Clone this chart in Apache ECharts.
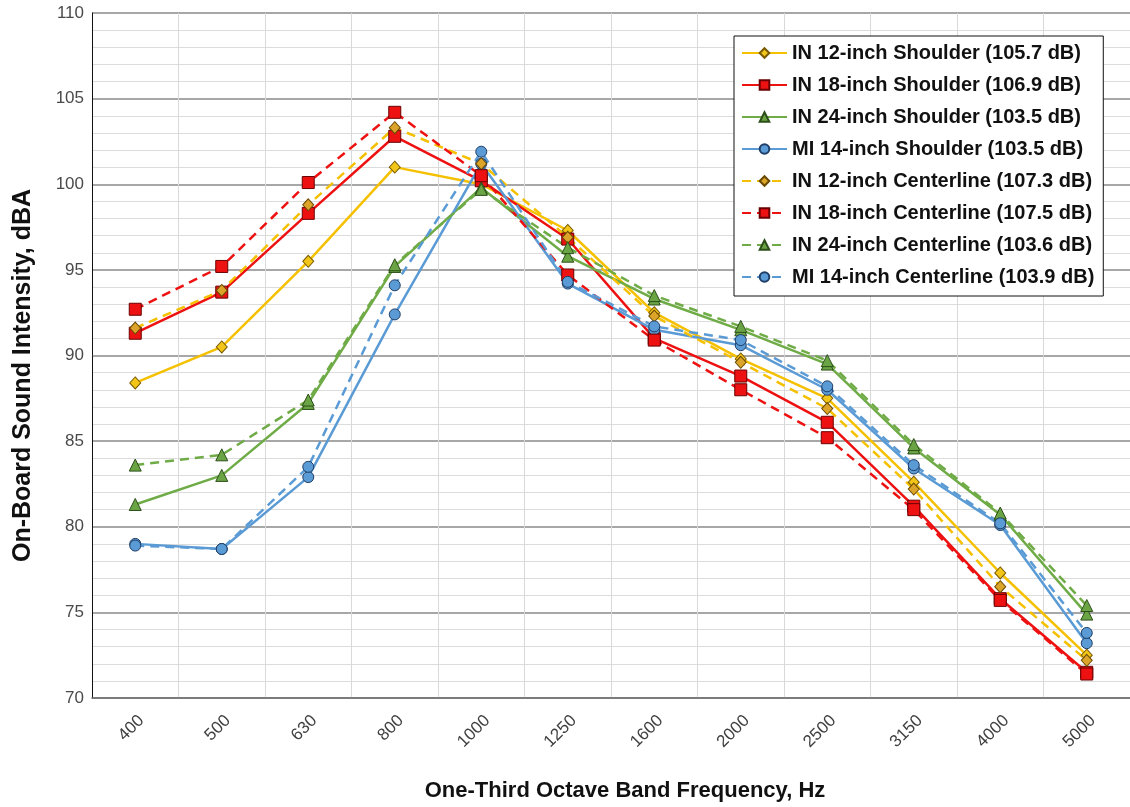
<!DOCTYPE html>
<html>
<head>
<meta charset="utf-8">
<script src="https://cdn.jsdelivr.net/npm/echarts@6/dist/echarts.min.js"></script>
<style>
html,body{margin:0;padding:0;background:#fff;}
#chart{width:1130px;height:807px;}
</style>
</head>
<body>
<div id="chart"></div>
<script>
var categories = ['400','500','630','800','1000','1250','1600','2000','2500','3150','4000','5000'];

var in12Shoulder   = [88.4, 90.5, 95.5, 101.0, 100.0, 97.3, 92.5, 89.8, 87.5, 82.6, 77.3, 72.5];
var in18Shoulder   = [91.3, 93.7, 98.3, 102.8, 100.2, 96.8, 91.0, 88.8, 86.1, 81.2, 75.8, 71.5];
var in24Shoulder   = [81.3, 83.0, 87.2, 95.2, 99.8, 95.8, 93.3, 91.5, 89.5, 84.6, 80.7, 74.9];
var mi14Shoulder   = [79.0, 78.7, 82.9, 92.4, 101.2, 94.2, 91.5, 90.6, 88.0, 83.4, 80.1, 73.2];
var in12Centerline = [91.6, 93.8, 98.8, 103.3, 101.2, 96.9, 92.3, 89.6, 86.9, 82.2, 76.5, 72.2];
var in18Centerline = [92.7, 95.2, 100.1, 104.2, 100.5, 94.7, 90.9, 88.0, 85.2, 81.0, 75.7, 71.4];
var in24Centerline = [83.6, 84.2, 87.4, 95.3, 99.7, 96.3, 93.5, 91.7, 89.7, 84.8, 80.8, 75.4];
var mi14Centerline = [78.9, 78.7, 83.5, 94.1, 101.9, 94.3, 91.7, 90.9, 88.2, 83.6, 80.2, 73.8];

var seriesNames = [
  'IN 12-inch Shoulder (105.7 dB)',
  'IN 18-inch Shoulder (106.9 dB)',
  'IN 24-inch Shoulder (103.5 dB)',
  'MI 14-inch Shoulder (103.5 dB)',
  'IN 12-inch Centerline (107.3 dB)',
  'IN 18-inch Centerline (107.5 dB)',
  'IN 24-inch Centerline (103.6 dB)',
  'MI 14-inch Centerline (103.9 dB)'
];
var seriesData = [in12Shoulder, in18Shoulder, in24Shoulder, mi14Shoulder,
                  in12Centerline, in18Centerline, in24Centerline, mi14Centerline];

var styles = [
  {line:'#F5C000', fill:'#F2C619', border:'#7a5a00', symbol:'diamond', size:[11,12], dash:'solid'},
  {line:'#EE1111', fill:'#EE1111', border:'#6a0000', symbol:'rect', size:12, dash:'solid'},
  {line:'#6FAB46', fill:'#6AA444', border:'#2c4f1a', symbol:'triangle', size:12, dash:'solid'},
  {line:'#5B9BD5', fill:'#5B9BD5', border:'#1f3d66', symbol:'circle', size:11, dash:'solid'},
  {line:'#F5C000', fill:'#DCA52A', border:'#6a4a00', symbol:'diamond', size:[11,12], dash:[9,6]},
  {line:'#EE1111', fill:'#EE1111', border:'#6a0000', symbol:'rect', size:12, dash:[9,6]},
  {line:'#6FAB46', fill:'#6AA444', border:'#2c4f1a', symbol:'triangle', size:12, dash:[9,6]},
  {line:'#5B9BD5', fill:'#5B9BD5', border:'#1f3d66', symbol:'circle', size:11, dash:[9,6]}
];

var series = seriesNames.map(function(n, i){
  var s = styles[i];
  return {
    name: n,
    type: 'line',
    data: seriesData[i],
    symbol: s.symbol,
    symbolSize: s.size,
    showAllSymbol: true,
    lineStyle: {color: s.line, width: 2.5, type: s.dash},
    itemStyle: {color: s.fill, borderColor: s.border, borderWidth: 1},
    emphasis: {disabled: true},
    animation: false
  };
});

var FONT = 'Liberation Sans, Arial, sans-serif';
var chart = echarts.init(document.getElementById('chart'), null, {renderer:'canvas'});
chart.setOption({
  backgroundColor: '#fff',
  animation: false,
  grid: {left: 92, right: -1, top: 13, bottom: 109, containLabel: false},
  legend: {
    orient: 'vertical',
    left: 734, top: 36,
    backgroundColor: '#fff',
    borderColor: '#111', borderWidth: 1,
    padding: [7, 9, 9, 7],
    itemWidth: 45, itemHeight: 12, itemGap: 12,
    textStyle: {fontFamily: FONT, fontSize: 20, fontWeight: 'bold', color: '#111'},
    data: seriesNames
  },
  xAxis: {
    type: 'category',
    data: categories,
    boundaryGap: true,
    axisLine: {show: true, lineStyle: {color: '#6e6e6e', width: 1.5}},
    axisTick: {show: false},
    axisLabel: {rotate: 45, margin: 14, verticalAlign: 'top', fontSize: 17, color: '#404040', fontFamily: FONT},
    splitLine: {show: true, lineStyle: {color: '#d9d9d9', width: 1}},
    name: 'One-Third Octave Band Frequency, Hz',
    nameLocation: 'middle',
    nameGap: 82,
    nameTextStyle: {fontSize: 22, fontWeight: 'bold', color: '#111', fontFamily: FONT, padding: [0, 0, 0, 28]}
  },
  yAxis: {
    type: 'value',
    min: 70, max: 110, interval: 5,
    axisLine: {show: true, lineStyle: {color: '#111', width: 1}},
    axisTick: {show: false},
    axisLabel: {fontSize: 17, color: '#4a4a4a', margin: 8, fontFamily: FONT},
    splitLine: {show: true, lineStyle: {color: '#8a8a8a', width: 1.5}},
    minorTick: {show: false, splitNumber: 5},
    minorSplitLine: {show: true, lineStyle: {color: '#dcdcdc', width: 1}},
    name: 'On-Board Sound Intensity, dBA',
    nameLocation: 'middle',
    nameGap: 56,
    nameTextStyle: {fontSize: 25, fontWeight: 'bold', color: '#111', fontFamily: FONT, padding: [0, 40, 0, 0]}
  },
  series: series
});
</script>
</body>
</html>
